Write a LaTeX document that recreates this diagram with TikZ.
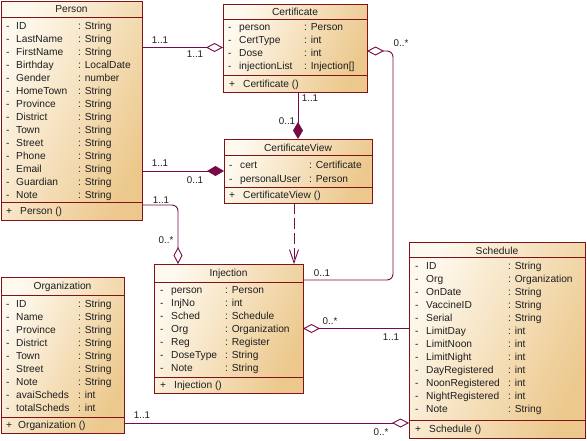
\documentclass[tikz,border=0pt]{standalone}
\usepackage{fontspec}
\setmainfont{Liberation Sans}
\usetikzlibrary{arrows.meta,calc}
\definecolor{bordc}{RGB}{128,18,24}
\definecolor{connc}{RGB}{120,10,70}
\definecolor{clsL}{RGB}{254,249,238}
\definecolor{clsR}{RGB}{236,200,140}
\definecolor{txtc}{RGB}{30,30,30}
\tikzset{
  x=1pt, y=-1pt,
  cls/.style={draw=bordc, line width=0.9pt, shading=axis, top color=clsL, bottom color=clsR, shading angle=65, rectangle, inner sep=0pt, outer sep=0pt, anchor=north west},
  sep/.style={draw=bordc, line width=0.9pt},
  txt/.style={inner sep=0pt, anchor=base west, text=txtc, font=\fontsize{10.2}{12}\selectfont},
  hdr/.style={inner sep=0pt, anchor=base, text=txtc, font=\fontsize{10.2}{12}\selectfont},
  lbl/.style={inner sep=0pt, anchor=center, text=txtc, font=\fontsize{9.8}{12}\selectfont},
  conn/.style={draw=connc, line width=0.9pt},
  odia/.tip={Diamond[open, length=17pt, width=9pt, line width=0.9pt]},
  fdia/.tip={Diamond[length=17pt, width=10pt]},
  vbarb/.tip={Straight Barb[length=13pt, width=9pt, line width=0.9pt]},
}
\begin{document}
\begin{tikzpicture}
\useasboundingbox (0,0) rectangle (587,440);
\fill[white] (0,0) rectangle (587,440);

% ---------- Person ----------
\node[cls, minimum width=141pt, minimum height=219pt] (person) at (1,1) {};
\draw[sep] (1,17) -- (142,17);
\draw[sep] (1,202) -- (142,202);
\node[hdr] (p-h) at (71.5,12.5) {Person};
\foreach \nm/\ty [count=\i from 0] in {ID/String, LastName/String, FirstName/String, Birthday/LocalDate, Gender/number, HomeTown/String, Province/String, District/String, Town/String, Street/String, Phone/String, Email/String, Guardian/String, Note/String} {
  \node[txt] (p-d\i) at (6,29+13*\i) {-};
  \node[txt] (p-n\i) at (16,29+13*\i) {\nm};
  \node[txt] (p-t\i) at (78,29+13*\i) {: \ty};
}
\node[txt] (p-m1) at (6,214.5) {+};
\node[txt] (p-m2) at (20,214.5) {Person ()};

% ---------- Certificate ----------
\node[cls, minimum width=144pt, minimum height=88pt] (cert) at (223,4) {};
\draw[sep] (223,19) -- (367,19);
\draw[sep] (223,75) -- (367,75);
\node[hdr] (c-h) at (295,15) {Certificate};
\foreach \nm/\ty [count=\i from 0] in {person/Person, CertType/int, Dose/int, injectionList/Injection[]} {
  \node[txt] (c-d\i) at (228,30.5+13*\i) {-};
  \node[txt] (c-n\i) at (239,30.5+13*\i) {\nm};
  \node[txt] (c-t\i) at (304,30.5+13*\i) {: \ty};
}
\node[txt] (c-m1) at (229,87.5) {+};
\node[txt] (c-m2) at (243,87.5) {Certificate ()};

% ---------- CertificateView ----------
\node[cls, minimum width=148pt, minimum height=64pt] (cview) at (224,139) {};
\draw[sep] (224,155) -- (372,155);
\draw[sep] (224,187) -- (372,187);
\node[hdr] (v-h) at (298,151) {CertificateView};
\node[txt] (v-d0) at (229,168) {-};
\node[txt] (v-n0) at (240,168) {cert};
\node[txt] (v-t0) at (309,168) {: Certificate};
\node[txt] (v-d1) at (229,182) {-};
\node[txt] (v-n1) at (240,182) {personalUser};
\node[txt] (v-t1) at (309,182) {: Person};
\node[txt] (v-m1) at (229,198.5) {+};
\node[txt] (v-m2) at (243,198.5) {CertificateView ()};

% ---------- Injection ----------
\node[cls, minimum width=149pt, minimum height=129pt] (inj) at (154,264) {};
\draw[sep] (154,282) -- (303,282);
\draw[sep] (154,377) -- (303,377);
\node[hdr] (i-h) at (228.5,276) {Injection};
\foreach \nm/\ty [count=\i from 0] in {person/Person, InjNo/int, Sched/Schedule, Org/Organization, Reg/Register, DoseType/String, Note/String} {
  \node[txt] (i-d\i) at (160,293+13.05*\i) {-};
  \node[txt] (i-n\i) at (171,293+13.05*\i) {\nm};
  \node[txt] (i-t\i) at (225,293+13.05*\i) {: \ty};
}
\node[txt] (i-m1) at (160,388) {+};
\node[txt] (i-m2) at (174,388) {Injection ()};

% ---------- Schedule ----------
\node[cls, minimum width=176pt, minimum height=196pt] (sched) at (409,242) {};
\draw[sep] (409,257) -- (585,257);
\draw[sep] (409,420) -- (585,420);
\node[hdr] (s-h) at (497,254) {Schedule};
\foreach \nm/\ty [count=\i from 0] in {ID/String, Org/Organization, OnDate/String, VaccineID/String, Serial/String, LimitDay/int, LimitNoon/int, LimitNight/int, DayRegistered/int, NoonRegistered/int, NightRegistered/int, Note/String} {
  \node[txt] (s-d\i) at (415,269.5+13*\i) {-};
  \node[txt] (s-n\i) at (426,269.5+13*\i) {\nm};
  \node[txt] (s-t\i) at (508,269.5+13*\i) {: \ty};
}
\node[txt] (s-m1) at (415,432.5) {+};
\node[txt] (s-m2) at (429,432.5) {Schedule ()};

% ---------- Organization ----------
\node[cls, minimum width=123pt, minimum height=156pt] (org) at (1,277) {};
\draw[sep] (1,295) -- (124,295);
\draw[sep] (1,417) -- (124,417);
\node[hdr] (o-h) at (62.5,289.5) {Organization};
\foreach \nm/\ty [count=\i from 0] in {ID/String, Name/String, Province/String, District/String, Town/String, Street/String, Note/String, avaiScheds/int, totalScheds/int} {
  \node[txt] (o-d\i) at (6,307.5+13*\i) {-};
  \node[txt] (o-n\i) at (16,307.5+13*\i) {\nm};
  \node[txt] (o-t\i) at (78,307.5+13*\i) {: \ty};
}
\node[txt] (o-m1) at (6,428.5) {+};
\node[txt] (o-m2) at (18,428.5) {Organization ()};

% ---------- Connectors ----------
% Person -- Certificate (aggregation)
\draw[conn, -{odia}] ([yshift=0.5pt]person.east |- cert.west) -- ([yshift=0.5pt]cert.west);
\node[lbl] (l1) at (160,40) {1..1};
\node[lbl] (l2) at (195,54) {1..1};

% Person -- CertificateView (composition)
\draw[conn, -{fdia}] (person.east |- cview.west) -- (cview.west);
\node[lbl] (l3) at (160,163) {1..1};
\node[lbl] (l4) at (195,180) {0..1};

% Certificate -- CertificateView (composition)
\draw[conn, -{fdia}] (cview.north |- cert.south) -- (cview.north);
\node[lbl] (l5) at (310,98) {1..1};
\node[lbl] (l6) at (287,121) {0..1};

% CertificateView -- Injection (dependency)
\draw[conn, dash pattern=on 11pt off 4pt, -{vbarb}] ([xshift=-4pt]cview.south) -- ([xshift=-4pt]cview.south |- inj.north);

% Certificate -- Injection (aggregation)
\draw[conn, {odia}-, rounded corners=6pt] ([yshift=-3pt]cert.east) -- ++(26,0) |- ([yshift=-16pt]inj.north east);
\node[lbl] (l7) at (401,43) {0..*};
\node[lbl] (l8) at (322,273) {0..1};

% Person -- Injection (aggregation)
\draw[conn, -{odia}, rounded corners=6pt] ([yshift=15pt]person.south east) -| ([xshift=24pt]inj.north west);
\node[lbl] (l9) at (161,200) {1..1};
\node[lbl] (l10) at (166,240) {0..*};

% Injection -- Schedule (aggregation)
\draw[conn, {odia}-] (inj.east) -- (inj.east -| sched.west);
\node[lbl] (l11) at (330,321) {0..*};
\node[lbl] (l12) at (391,337) {1..1};

% Organization -- Schedule (aggregation)
\draw[conn, -{odia}] ([yshift=10pt]org.south east) -- ([yshift=10pt]org.south east -| sched.west);
\node[lbl] (l13) at (142,415) {1..1};
\node[lbl] (l14) at (381,432) {0..*};
\end{tikzpicture}
\end{document}
